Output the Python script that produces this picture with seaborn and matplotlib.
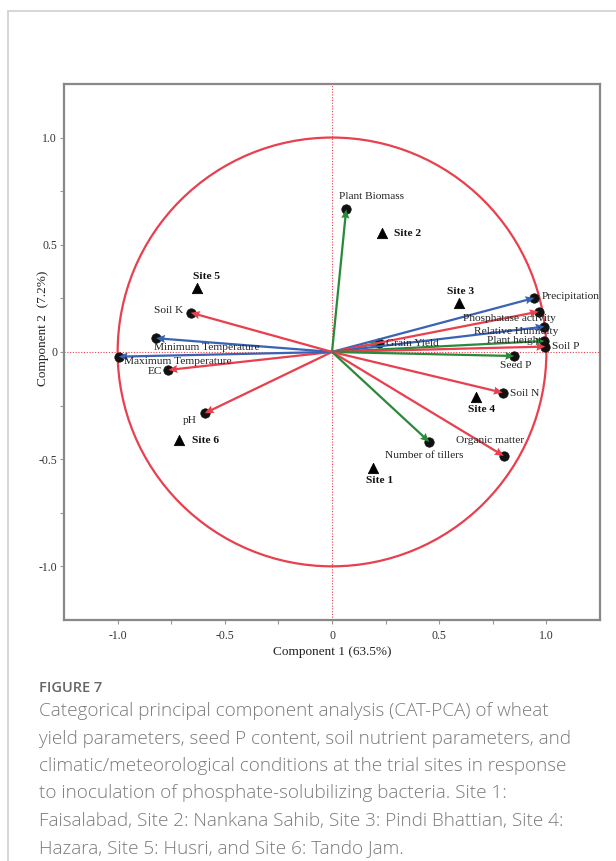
import matplotlib
matplotlib.use("Agg")
import matplotlib.pyplot as plt
import seaborn as sns
import pandas as pd
import numpy as np
from matplotlib.patches import Circle
from matplotlib.lines import Line2D
from matplotlib.ticker import FixedLocator, FixedFormatter

# variable loadings (component 1, component 2)
var_names = ['Plant Biomass', 'Grain Yield', 'Precipitation', 'Phosphatase activity',
             'Relative Humidity', 'Plant height', 'Soil P', 'Seed P', 'Soil N',
             'Organic matter', 'Number of tillers', 'pH', 'EC',
             'Maximum Temperature', 'Minimum Temperature', 'Soil K']
var_x = [0.066, 0.221, 0.944, 0.964, 0.991, 0.991, 0.995, 0.850, 0.796,
         0.801, 0.454, -0.594, -0.763, -0.995, -0.821, -0.659]
var_y = [0.665, 0.041, 0.252, 0.188, 0.118, 0.051, 0.025, -0.019, -0.190,
         -0.485, -0.420, -0.286, -0.084, -0.022, 0.064, 0.183]
var_group = ['yield', 'yield', 'climate', 'soil', 'climate', 'yield', 'soil', 'yield', 'soil',
             'soil', 'yield', 'soil', 'soil', 'climate', 'climate', 'soil']

# site scores
site_names = ['Site 1', 'Site 2', 'Site 3', 'Site 4', 'Site 5', 'Site 6']
site_x = [0.193, 0.234, 0.590, 0.672, -0.631, -0.712]
site_y = [-0.542, 0.556, 0.230, -0.208, 0.297, -0.413]

RED = '#e8404e'
BLUE = '#3b63b3'
GREEN = '#2a8a3c'
pal = {'soil': RED, 'climate': BLUE, 'yield': GREEN}

# label offsets in pixels (dx, dy, ha, va)
var_lab = {
    'Plant Biomass': (25, 8, 'center', 'bottom'),
    'Grain Yield': (7, 0, 'left', 'center'),
    'Precipitation': (7, 1, 'left', 'center'),
    'Phosphatase activity': (-29, -7, 'center', 'center'),
    'Relative Humidity': (-28, -5, 'center', 'center'),
    'Plant height': (-30, 0, 'center', 'center'),
    'Soil P': (7, 0, 'left', 'center'),
    'Seed P': (2, -9, 'center', 'center'),
    'Soil N': (7, -1, 'left', 'center'),
    'Organic matter': (-14, 15, 'center', 'center'),
    'Number of tillers': (-5, -14, 'center', 'center'),
    'pH': (-8, -7, 'right', 'center'),
    'EC': (-6, -2, 'right', 'center'),
    'Maximum Temperature': (5, -5, 'left', 'center'),
    'Minimum Temperature': (-2, -9, 'left', 'center'),
    'Soil K': (-8, 2, 'right', 'center'),
}
site_lab = {
    'Site 1': (6, -12, 'center', 'center'),
    'Site 2': (12, -1, 'left', 'center'),
    'Site 3': (2, 11, 'center', 'center'),
    'Site 4': (5, -13, 'center', 'center'),
    'Site 5': (10, 12, 'center', 'center'),
    'Site 6': (13, 0, 'left', 'center'),
}

sns.set_theme(style='white')
plt.rcParams['font.family'] = ['Liberation Serif', 'DejaVu Serif']

fig = plt.figure(figsize=(6.16, 8.61), dpi=100)
ax = fig.add_axes([0.104, 0.280, 0.870, 0.6225])

ax.set_xlim(-1.25, 1.25)
ax.set_ylim(-1.25, 1.25)

ax.axhline(0, color=RED, lw=0.8, ls=(0, (1, 1.5)), zorder=1)
ax.axvline(0, color=RED, lw=0.8, ls=(0, (1, 1.5)), zorder=1)
ax.add_patch(Circle((0, 0), 1.0, fill=False, ec=RED, lw=1.6, zorder=2))

df = pd.DataFrame({'name': var_names, 'x': var_x, 'y': var_y, 'group': var_group})
sites = pd.DataFrame({'name': site_names, 'x': site_x, 'y': site_y})

# black end points
sns.scatterplot(data=df, x='x', y='y', color='#111111', s=46, edgecolor='#111111',
                linewidth=0.5, legend=False, zorder=2.5, ax=ax)

# vectors from the origin, head over the dot
ax.quiver(np.zeros(len(df)), np.zeros(len(df)), df['x'], df['y'],
          color=[pal[g] for g in df['group']], angles='xy', scale_units='xy', scale=1,
          width=0.0042, headwidth=3.6, headlength=4.0, headaxislength=3.6, zorder=5)

# sites
sns.scatterplot(data=sites, x='x', y='y', marker='^', color='black', s=55,
                edgecolor='black', legend=False, zorder=6, ax=ax)

px = 72 / 100.0
for _, r in df.iterrows():
    dx, dy, ha, va = var_lab[r['name']]
    ax.annotate(r['name'], (r['x'], r['y']), xytext=(dx * px, dy * px),
                textcoords='offset points', ha=ha, va=va, fontsize=8.2,
                color='#222222', zorder=7)
for _, r in sites.iterrows():
    dx, dy, ha, va = site_lab[r['name']]
    ax.annotate(r['name'], (r['x'], r['y']), xytext=(dx * px, dy * px),
                textcoords='offset points', ha=ha, va=va, fontsize=8.2,
                fontweight='bold', color='#111111', zorder=7)

ticks = [-1.0, -0.5, 0, 0.5, 1.0]
tick_lab = ['-1.0', '-0.5', '0', '0.5', '1.0']
for axis in (ax.xaxis, ax.yaxis):
    axis.set_major_locator(FixedLocator(ticks))
    axis.set_major_formatter(FixedFormatter(tick_lab))
    axis.set_minor_locator(FixedLocator([-0.75, -0.25, 0.25, 0.75]))
ax.tick_params(which='both', direction='out', length=3, width=0.8, color='#999999',
               labelsize=8.5, labelcolor='#333333', left=True, bottom=True)
ax.tick_params(axis='x', pad=4)
ax.tick_params(axis='y', pad=2)

for s in ax.spines.values():
    s.set_color('#888888')
    s.set_linewidth(1.6)

ax.set_xlabel('Component 1 (63.5%)', fontsize=9.5, color='#222222', labelpad=3)
ax.set_ylabel('Component 2  (7.2%)', fontsize=9.5, color='#222222')
ax.yaxis.set_label_coords(-0.028, 0.545)

# card border
fig.add_artist(Line2D([8 / 616, 8 / 616], [0, 1 - 11 / 861], transform=fig.transFigure,
                      color='#d0d0d0', lw=1.2))
fig.add_artist(Line2D([8 / 616, 1], [1 - 11 / 861, 1 - 11 / 861], transform=fig.transFigure,
                      color='#d0d0d0', lw=1.2))

cap_font = ['Open Sans', 'DejaVu Sans']
fig.text(39 / 616, 1 - 688 / 861, 'FIGURE 7', fontsize=10.5, color='#666666',
         family=cap_font, fontweight='semibold', va='center', ha='left')
caption = ['Categorical principal component analysis (CAT-PCA) of wheat',
           'yield parameters, seed P content, soil nutrient parameters, and',
           'climatic/meteorological conditions at the trial sites in response',
           'to inoculation of phosphate-solubilizing bacteria. Site 1:',
           'Faisalabad, Site 2: Nankana Sahib, Site 3: Pindi Bhattian, Site 4:',
           'Hazara, Site 5: Husri, and Site 6: Tando Jam.']
for i, line in enumerate(caption):
    fig.text(39 / 616, 1 - (711 + i * 27.5) / 861, line, fontsize=13.6, color='#7a7a7a',
             family=cap_font, fontweight='light', va='center', ha='left')

fig.savefig('out.png', dpi=100)
